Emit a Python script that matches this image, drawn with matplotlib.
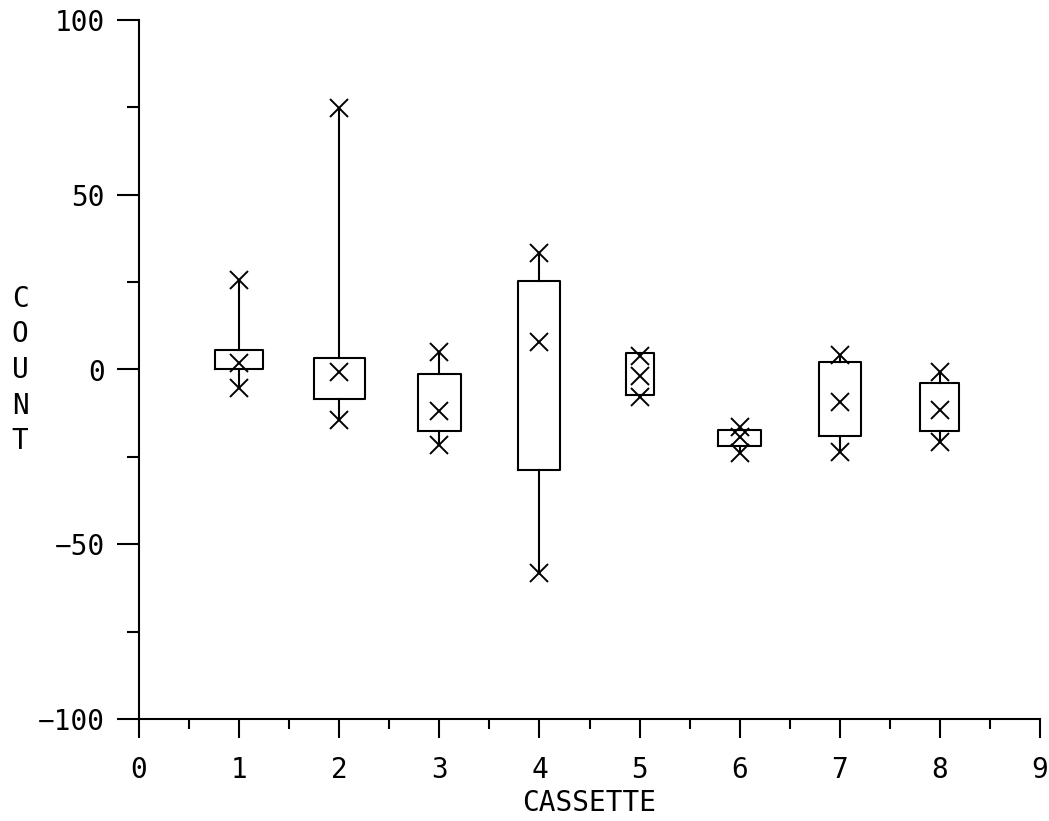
import matplotlib
matplotlib.use("Agg")
import matplotlib.pyplot as plt
from matplotlib.ticker import MultipleLocator

# cassette summary values
cassette = [1, 2, 3, 4, 5, 6, 7, 8]
max_vals = [25.6, 74.8, 5.1, 33.4, 3.9, -16.4, 4.1, -0.6]
q3_vals = [5.6, 3.4, -1.3, 25.4, 4.6, -17.3, 2.1, -3.8]
med_vals = [1.8, -0.6, -11.9, 7.8, -1.8, -19.2, -9.2, -11.6]
q1_vals = [0.1, -8.4, -17.6, -28.8, -7.3, -21.8, -19.0, -17.5]
min_vals = [-5.3, -14.5, -21.6, -58.2, -7.9, -23.9, -23.5, -20.7]
box_widths = [0.48, 0.51, 0.43, 0.42, 0.28, 0.43, 0.42, 0.39]

FONT = "DejaVu Sans Mono"
plt.rcParams['font.family'] = FONT

fig = plt.figure(figsize=(10.49, 8.21), dpi=100)
ax = fig.add_axes([139 / 1049, 1 - 719 / 821, (1040 - 139) / 1049, (719 - 20) / 821])

stats = []
for i in range(len(cassette)):
    stats.append({'whislo': min_vals[i], 'q1': q1_vals[i], 'med': med_vals[i],
                  'q3': q3_vals[i], 'whishi': max_vals[i]})

lw = 1.5
ax.bxp(stats, positions=cassette, widths=box_widths, showcaps=False,
       showfliers=False, manage_ticks=False,
       boxprops=dict(color='black', linewidth=lw),
       whiskerprops=dict(color='black', linewidth=lw),
       medianprops=dict(linestyle='none'))

# X markers for max, median, min
for vals in (max_vals, med_vals, min_vals):
    ax.plot(cassette, vals, linestyle='none', marker='x', color='black',
            markersize=12.5, markeredgewidth=1.4)

ax.set_xlim(0, 9)
ax.set_ylim(-100, 100)
ax.spines['top'].set_visible(False)
ax.spines['right'].set_visible(False)
ax.spines['left'].set_linewidth(lw)
ax.spines['bottom'].set_linewidth(lw)

ax.xaxis.set_major_locator(MultipleLocator(1))
ax.xaxis.set_minor_locator(MultipleLocator(0.5))
ax.yaxis.set_major_locator(MultipleLocator(50))
ax.yaxis.set_minor_locator(MultipleLocator(25))

ax.tick_params(axis='x', which='major', direction='out', length=13.5, width=lw,
               pad=13, labelsize=20)
ax.tick_params(axis='x', which='minor', direction='out', length=7, width=lw)
ax.tick_params(axis='y', which='major', direction='out', length=15.5, width=lw,
               pad=9, labelsize=20)
ax.tick_params(axis='y', which='minor', direction='out', length=9, width=lw)
ax.set_yticks([-100, -50, 0, 50, 100])
ax.set_yticklabels(['\u2212100', '\u221250', '0', '50', '100'])

fig.text(589 / 1049, 1 - 803 / 821, 'CASSETTE', ha='center', va='center',
         fontsize=20)
fig.text(20 / 1049, 1 - 370 / 821, 'C\nO\nU\nN\nT', ha='center', va='center',
         fontsize=20, linespacing=1.35)

fig.savefig('out.png', dpi=100)
